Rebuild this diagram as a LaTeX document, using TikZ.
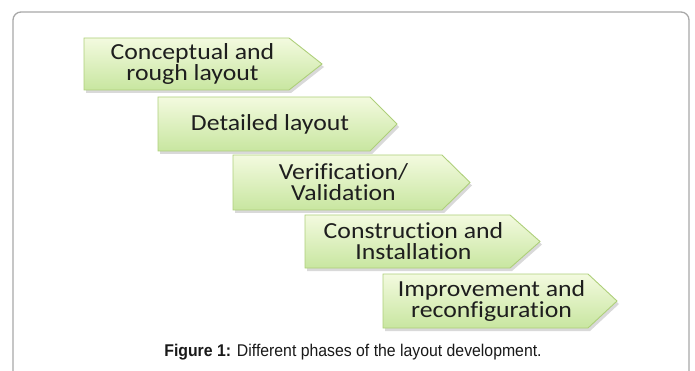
\documentclass[tikz,border=0pt]{standalone}
\usepackage{fontspec}
\setmainfont{Liberation Sans}
\newfontfamily\boxfont[FakeStretch=1.12, Ligatures=NoCommon]{Carlito}
\newfontfamily\capfont[FakeStretch=0.93]{Liberation Sans}
\usetikzlibrary{shadows}
\definecolor{framec}{HTML}{A8A8A8}
\definecolor{phaseborder}{HTML}{AECF7A}
\definecolor{phasetop}{HTML}{F3FADF}
\definecolor{phasebot}{HTML}{C8E6A0}
\definecolor{phasetextc}{HTML}{1E1E1E}
\tikzset{
  phase/.style={draw=phaseborder, line width=0.9pt, top color=phasetop, bottom color=phasebot,
    drop shadow={shadow xshift=2pt, shadow yshift=-3pt, opacity=0.3, fill=black!50}},
  phasetext/.style={align=center, text=phasetextc, font=\boxfont\fontsize{23}{21}\selectfont, inner sep=0pt},
  captext/.style={text=black!90, font=\capfont\fontsize{17}{20}\selectfont, inner sep=0pt},
}
\newcommand\PhaseArrow[7]{%
  \path[phase] (#1,#2) -- (#3,#2) -- (#4,{(#2+#5)/2}) -- (#3,#5) -- (#1,#5) -- cycle;
  \node[phasetext] (#6) at ({(#1+#3)/2+6},{(#2+#5)/2}) {#7};
}
\begin{document}
\begin{tikzpicture}[x=1pt,y=-1pt]
\useasboundingbox (0,0) rectangle (695,371);
\draw[framec, line width=1.3pt, rounded corners=8pt] (13,380) -- (13,12) -- (689,12) -- (689,380);
\PhaseArrow{84}{38}{289}{322}{90}{p1}{Conceptual and\\rough layout}
\PhaseArrow{158}{97}{370}{397}{151}{p2}{Detailed layout}
\PhaseArrow{233}{155}{442}{470}{210}{p3}{Verification/\\Validation}
\PhaseArrow{305}{215}{510}{540}{268}{p4}{Construction and\\Installation}
\PhaseArrow{383}{274}{588}{617}{328}{p5}{Improvement and\\reconfiguration}
\node[captext] (cap) at (353,352) {{\bfseries Figure 1:} Different phases of the layout development.};
\end{tikzpicture}
\end{document}
